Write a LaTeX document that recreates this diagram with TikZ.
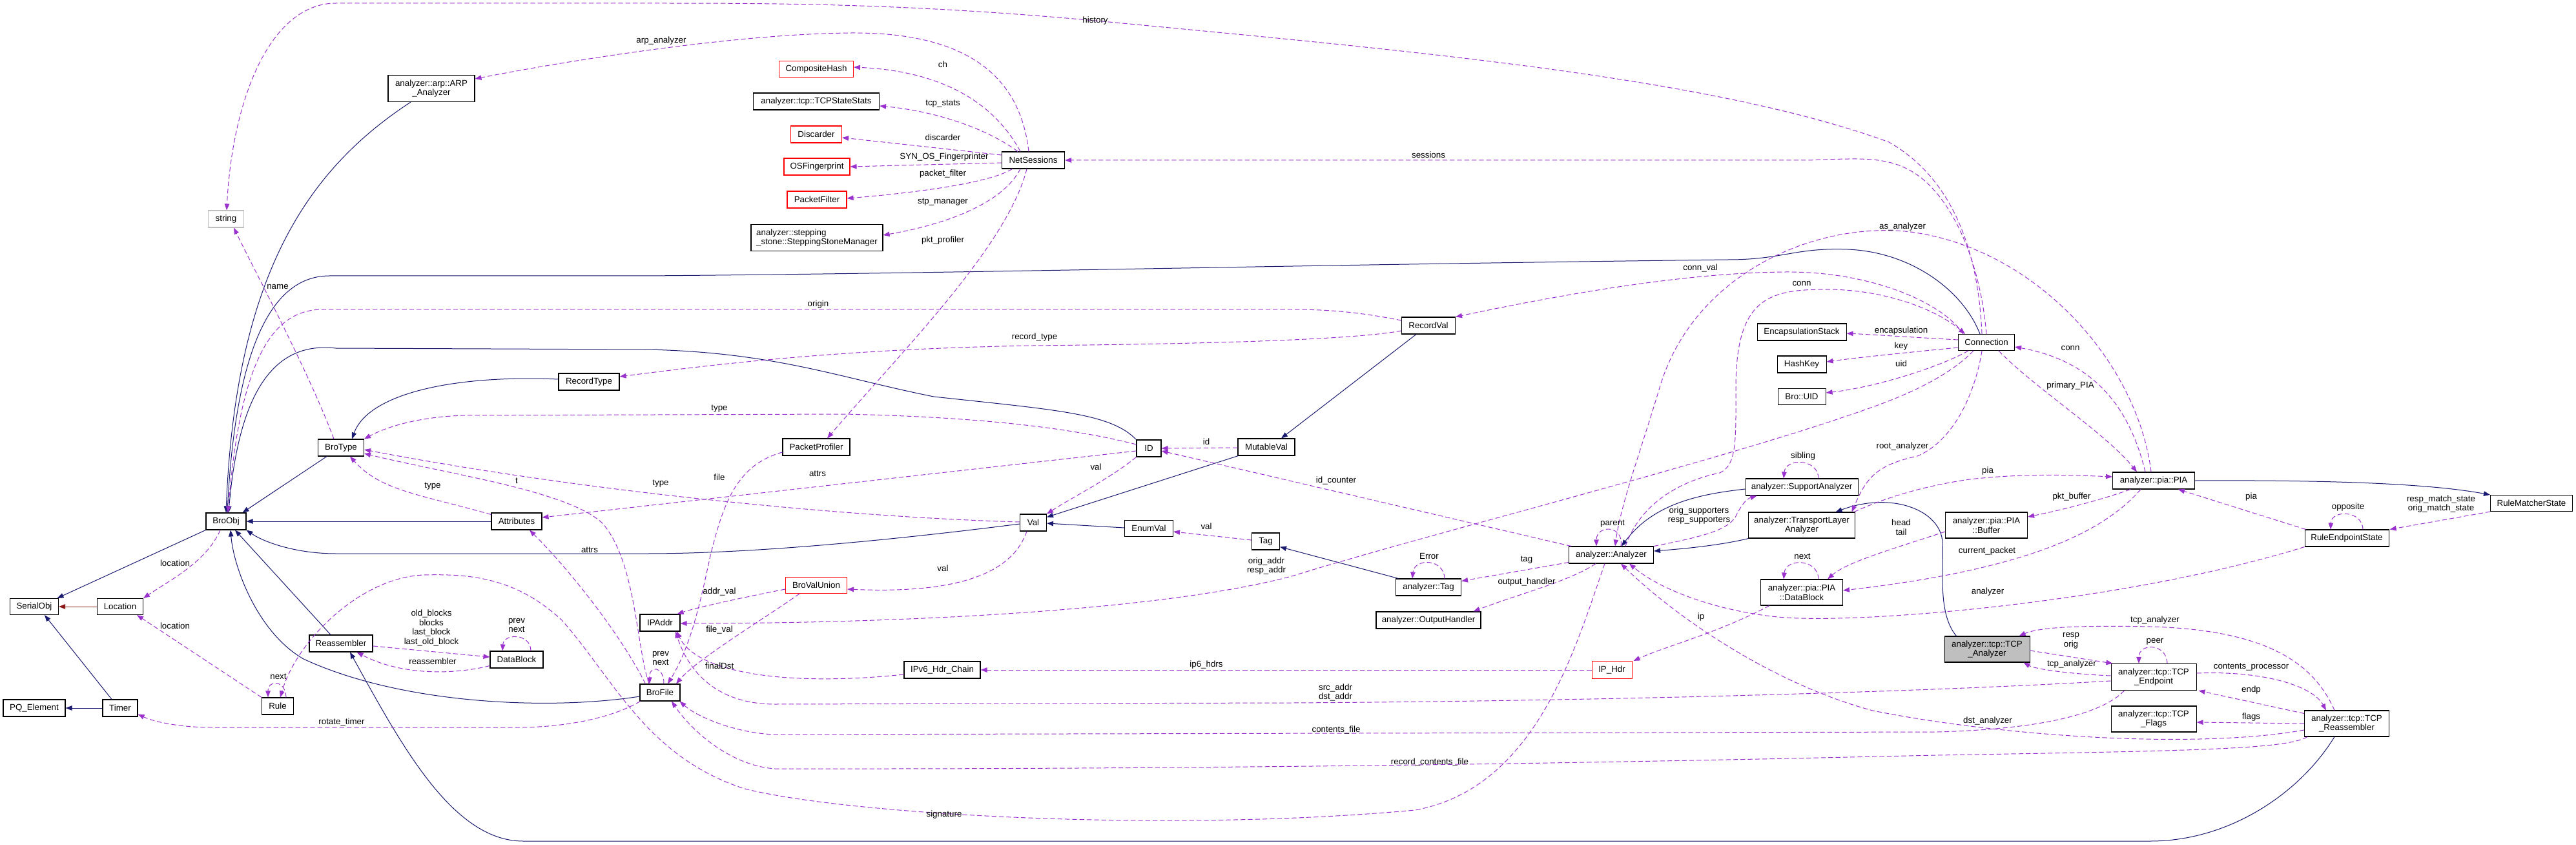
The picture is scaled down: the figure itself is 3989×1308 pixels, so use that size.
\documentclass[tikz,border=0pt]{standalone}
\usepackage{fontspec}
\setmainfont{Liberation Sans}
\usetikzlibrary{arrows.meta,calc}
\definecolor{midblue}{HTML}{191970}
\definecolor{deppurple}{HTML}{9A32CD}
\definecolor{fbfour}{HTML}{8B1A1A}
\definecolor{boxgray}{HTML}{BFBFBF}
\begin{document}
\begin{tikzpicture}[x=0.75pt,y=-0.75pt,
  cls/.style={draw=black, fill=white, line width=0.8pt, inner sep=0pt, font=\fontsize{10}{11}\selectfont, align=center},
  redcls/.style={cls, draw=red},
  sz/.style 2 args={minimum width=#1*0.75pt, minimum height=#2*0.75pt},
  tip/.style={-{Triangle[length=7.5pt,width=5.6pt]}},
  inh/.style={draw=midblue, line width=0.75pt, tip},
  priv/.style={draw=fbfour, line width=0.75pt, tip},
  dep/.style={draw=deppurple, line width=0.75pt, dash pattern=on 5.5pt off 3pt, tip},
  lbl/.style={inner sep=0pt, font=\fontsize{10}{11}\selectfont, align=center}]
\useasboundingbox (0,0) rectangle (3989,1308);
\fill[white] (0,0) rectangle (3989,1308);

% ---------------- nodes ----------------
\node[cls,draw=boxgray,sz={55}{26}] (string) at (350,339) {string};
\node[cls,sz={134}{41}] (arp) at (668,137) {analyzer::arp::ARP\\\_Analyzer};
\node[cls,sz={94}{26}] (RecordType) at (912,591) {RecordType};
\node[cls,sz={71}{26}] (BroType) at (528,693) {BroType};
\node[cls,sz={62}{26}] (BroObj) at (350,807) {BroObj};
\node[cls,sz={78}{26}] (Attributes) at (800,807) {Attributes};
\node[cls,sz={75}{25}] (SerialObj) at (53,939) {SerialObj};
\node[cls,sz={71}{25}] (Location) at (186,939) {Location};
\node[cls,sz={98}{26}] (Reassembler) at (528,996) {Reassembler};
\node[cls,sz={82}{26}] (DataBlock) at (800,1021) {DataBlock};
\node[cls,sz={49}{26}] (Rule) at (430,1093) {Rule};
\node[cls,sz={96}{26}] (PQElement) at (53,1096) {PQ\_Element};
\node[cls,sz={54}{26}] (Timer) at (186,1096) {Timer};
\node[redcls,sz={115}{25}] (CompositeHash) at (1264,107) {CompositeHash};
\node[cls,sz={195}{26}] (TCPStateStats) at (1264,157) {analyzer::tcp::TCPStateStats};
\node[redcls,sz={79}{26}] (Discarder) at (1264,208) {Discarder};
\node[redcls,sz={102}{26}] (OSFingerprint) at (1265,258) {OSFingerprint};
\node[redcls,sz={92}{26}] (PacketFilter) at (1265,309) {PacketFilter};
\node[cls,sz={204}{41},align=left] (Stepping) at (1265,368) {analyzer::stepping\\\_stone::SteppingStoneManager};
\node[cls,sz={97}{26}] (NetSessions) at (1600,248) {NetSessions};
\node[cls,sz={104}{26}] (PacketProfiler) at (1264,692) {PacketProfiler};
\node[cls,sz={38}{26}] (ID) at (1779,694) {ID};
\node[cls,sz={88}{26}] (MutableVal) at (1961,692) {MutableVal};
\node[cls,sz={41}{26}] (Val) at (1600,809) {Val};
\node[cls,sz={75}{25}] (EnumVal) at (1779,818) {EnumVal};
\node[cls,sz={43}{26}] (Tag) at (1960,838) {Tag};
\node[redcls,sz={95}{25}] (BroValUnion) at (1264,906) {BroValUnion};
\node[cls,sz={62}{26}] (IPAddr) at (1022,964) {IPAddr};
\node[cls,sz={118}{26}] (IPv6) at (1459,1037) {IPv6\_Hdr\_Chain};
\node[cls,sz={62}{26}] (BroFile) at (1022,1072) {BroFile};
\node[cls,sz={83}{26}] (RecordVal) at (2212,504) {RecordVal};
\node[cls,sz={138}{26}] (EncapStack) at (2790,514) {EncapsulationStack};
\node[cls,sz={76}{26}] (HashKey) at (2790,564) {HashKey};
\node[cls,sz={74}{25}] (BroUID) at (2790,614) {Bro::UID};
\node[cls,sz={174}{26}] (SupportAnalyzer) at (2790,754) {analyzer::SupportAnalyzer};
\node[cls,sz={165}{40}] (TLA) at (2790,813) {analyzer::TransportLayer\\Analyzer};
\node[cls,sz={131}{26}] (Analyzer) at (2495,859) {analyzer::Analyzer};
\node[cls,sz={101}{26}] (aTag) at (2212,909) {analyzer::Tag};
\node[cls,sz={162}{26}] (OutputHandler) at (2212,960) {analyzer::OutputHandler};
\node[cls,sz={127}{40}] (PIADataBlock) at (2790,917) {analyzer::pia::PIA\\::DataBlock};
\node[redcls,sz={62}{27}] (IPHdr) at (2496,1037) {IP\_Hdr};
\node[cls,sz={87}{25}] (Connection) at (3076,530) {Connection};
\node[cls,sz={127}{26}] (PIA) at (3335,744) {analyzer::pia::PIA};
\node[cls,sz={127}{40}] (Buffer) at (3076,813) {analyzer::pia::PIA\\::Buffer};
\node[cls,sz={127}{25}] (RuleMatcherState) at (3920,779) {RuleMatcherState};
\node[cls,sz={130}{26}] (RuleEndpointState) at (3634,833) {RuleEndpointState};
\node[cls,fill=boxgray,sz={132}{40}] (TCPAnalyzer) at (3077,1005) {analyzer::tcp::TCP\\\_Analyzer};
\node[cls,sz={132}{41}] (TCPEndpoint) at (3335,1048) {analyzer::tcp::TCP\\\_Endpoint};
\node[cls,sz={132}{40}] (TCPFlags) at (3335,1113) {analyzer::tcp::TCP\\\_Flags};
\node[cls,sz={131}{40}] (TCPReassembler) at (3634,1120) {analyzer::tcp::TCP\\\_Reassembler};

% ---------------- inheritance ----------------
\draw[inh] ($(arp.south)+(-32,0)$) .. controls (480,260) and (365,420) .. (BroObj.north);
\draw[inh] ($(Connection.north)+(-10,0)$) .. controls (3040,450) and (2960,390) .. (2861,386) .. controls (2780,383) and (2760,402) .. (2676,402) .. controls (2000,410) and (1500,423) .. (1000,427) -- (510,427) .. controls (420,427) and (365,540) .. ($(BroObj.north)+(2,0)$);
\draw[inh] (ID.north west) .. controls (1720,640) and (1640,635) .. (1446,614) .. controls (1300,585) and (1200,545) .. (1000,541) -- (520,539) .. controls (440,530) and (372,580) .. ($(BroObj.north)+(4,0)$);
\draw[inh] ($(BroType.south)+(-22,0)$) -- ($(BroObj.north east)+(-6,0)$);
\draw[inh] (Attributes.west) -- (BroObj.east);
\draw[inh] ($(Val.west)+(0,2)$) .. controls (1350,840) and (1150,857) .. (1000,857) -- (520,857) .. controls (460,857) and (410,840) .. (BroObj.south east);
\draw[inh] ($(Reassembler.north)+(-16,0)$) -- ($(BroObj.south)+(14,0)$);
\draw[inh] ($(BroFile.west)+(0,6)$) .. controls (850,1100) and (620,1090) .. (470,1020) .. controls (400,980) and (362,880) .. ($(BroObj.south)+(7,0)$);
\draw[inh] (BroObj.south west) -- ($(SerialObj.north east)+(-2.5,0)$);
\draw[priv] (Location.west) -- (SerialObj.east);
\draw[inh] ($(Timer.north)+(-13,0)$) -- ($(SerialObj.south)+(16,0)$);
\draw[inh] (Timer.west) -- (PQElement.east);
\draw[inh] ($(RecordType.west)+(0,-4)$) .. controls (700,580) and (570,610) .. ($(BroType.north)+(17,0)$);
\draw[inh] ($(RecordVal.south)+(-19,0)$) -- ($(MutableVal.north)+(23,0)$);
\draw[inh] ($(MutableVal.south west)+(1,0)$) -- ($(Val.north east)+(0,5)$);
\draw[inh] ($(EnumVal.west)+(0,-1)$) -- ($(Val.east)+(0,1)$);
\draw[inh] ($(aTag.north west)+(4.5,0)$) -- ($(Tag.south east)+(0,-5)$);
\draw[inh] ($(TLA.south west)+(0.5,0)$) .. controls (2660,845) and (2600,850) .. ($(Analyzer.east)+(0,-6)$);
\draw[inh] ($(SupportAnalyzer.west)+(0,3)$) .. controls (2630,765) and (2560,780) .. ($(Analyzer.north)+(16,0)$);
\draw[inh] ($(TCPAnalyzer.north west)+(19,0)$) .. controls (3000,950) and (3010,880) .. (3008,840) .. controls (3006,790) and (2930,760) .. ($(TLA.north east)+(-30.5,0)$);
\draw[inh] (PIA.east) .. controls (3600,743) and (3760,748) .. (RuleMatcherState.north west);
\draw[inh] ($(TCPReassembler.south)+(-19,0)$) .. controls (3560,1230) and (3450,1302) .. (3330,1302) -- (810,1302) .. controls (700,1302) and (620,1150) .. ($(Reassembler.south)+(14,0)$);

% ---------------- usage ----------------
% NetSessions
\draw[dep] ($(NetSessions.north)+(-7,0)$) .. controls (1580,120) and (1500,50) .. (1319,51) .. controls (1150,52) and (900,90) .. ($(arp.east)+(0,-15)$);
\draw[dep] ($(NetSessions.north)+(-20,0)$) .. controls (1540,160) and (1460,110) .. ($(CompositeHash.east)+(0,-3)$);
\draw[dep] ($(NetSessions.north west)+(25,0)$) .. controls (1530,200) and (1450,172) .. ($(TCPStateStats.east)+(0,7)$);
\draw[dep] ($(NetSessions.west)+(0,-8)$) -- ($(Discarder.east)+(0,5)$);
\draw[dep] ($(NetSessions.west)+(0,4)$) -- (OSFingerprint.east);
\draw[dep] ($(NetSessions.south west)+(16.5,0)$) .. controls (1530,285) and (1400,300) .. ($(PacketFilter.east)+(0,-2)$);
\draw[dep] ($(NetSessions.south)+(-20,0)$) .. controls (1550,320) and (1450,350) .. ($(Stepping.east)+(0,-4)$);
\draw[dep] ($(NetSessions.south)+(-10,0)$) .. controls (1560,380) and (1400,540) .. ($(PacketProfiler.north)+(17,0)$);
% Connection
\draw[dep] ($(Connection.north)+(-7,0)$) .. controls (3064,400) and (3030,280) .. (2925,220) .. controls (2650,120) and (2200,80) .. (1696,32) .. controls (1400,5) and (1200,5) .. (1000,5) -- (520,5) .. controls (420,5) and (360,150) .. ($(string.north)+(1,0)$);
\draw[dep] (Connection.north) .. controls (3066,400) and (3020,300) .. (2960,265) .. controls (2920,242) and (2880,245) .. (2800,248) -- (NetSessions.east);
\draw[dep] ($(Connection.north west)+(8,0)$) .. controls (3010,470) and (2900,420) .. (2765,421) .. controls (2600,422) and (2400,460) .. (RecordVal.north east);
\draw[dep] ($(Connection.west)+(0,-4)$) .. controls (2960,522) and (2900,518) .. ($(EncapStack.east)+(0,2)$);
\draw[dep] ($(Connection.west)+(0,8)$) .. controls (2960,545) and (2880,553) .. ($(HashKey.east)+(0,-4)$);
\draw[dep] ($(Connection.south west)+(16,0)$) .. controls (3000,570) and (2900,600) .. ($(BroUID.east)+(0,-6)$);
\draw[dep] ($(Connection.south west)+(24,0)$) .. controls (3000,600) and (2900,630) .. (2842,650) .. controls (2600,730) and (2200,830) .. (2000,892) .. controls (1800,945) and (1400,965) .. ($(IPAddr.east)+(0,1)$);
\draw[dep] ($(Connection.south)+(-7,0)$) .. controls (3060,600) and (3030,680) .. (2969,706) .. controls (2905,720) and (2890,740) .. ($(TLA.north east)+(-5.5,0)$);
\draw[dep] ($(Connection.south)+(19,0)$) .. controls (3150,600) and (3260,670) .. ($(PIA.north)+(-26,0)$);
% Analyzer
\draw[dep] ($(Analyzer.north)+(22,0)$) .. controls (2540,780) and (2600,745) .. (2663,732) .. controls (2690,720) and (2688,680) .. (2688,600) .. controls (2688,460) and (2740,448) .. (2829,448) .. controls (2920,448) and (3000,480) .. ($(Connection.north west)+(11,0)$);
\draw[dep] ($(Analyzer.north)+(15,0)$) .. controls (2515,812) and (2472,812) .. ($(Analyzer.north)+(-23,0)$);
\draw[dep] (Analyzer.north east) .. controls (2640,830) and (2680,820) .. (2690,795) .. controls (2698,780) and (2705,772) .. ($(SupportAnalyzer.south west)+(18,0)$);
\draw[dep] ($(SupportAnalyzer.north)+(26,0)$) .. controls (2815,709) and (2765,709) .. ($(SupportAnalyzer.north)+(-28,0)$);
\draw[dep] ($(Analyzer.north west)+(4,0)$) -- ($(ID.east)+(0,4)$);
\draw[dep] ($(Analyzer.south west)+(0,-2)$) -- ($(aTag.north east)+(0,4)$);
\draw[dep] ($(aTag.north)+(25,0)$) .. controls (2236,864) and (2190,864) .. ($(aTag.north)+(-25,0)$);
\draw[dep] ($(Analyzer.south west)+(42,0)$) .. controls (2430,900) and (2350,920) .. ($(OutputHandler.north east)+(-12,0)$);
\draw[dep] ($(Analyzer.south)+(-10,0)$) .. controls (2440,1000) and (2380,1220) .. (2191,1254) .. controls (1800,1290) and (1300,1260) .. (1150,1220) .. controls (1000,1170) and (950,1050) .. (870,960) .. controls (800,895) and (730,888) .. (657,890) .. controls (560,893) and (460,990) .. ($(Rule.north)+(4,0)$);
% PIA
\draw[dep] ($(PIA.north)+(-4,0)$) .. controls (3310,560) and (3150,380) .. (2950,358) .. controls (2800,345) and (2620,430) .. (2570,600) .. controls (2540,700) and (2510,780) .. ($(Analyzer.north)+(6,0)$);
\draw[dep] ($(PIA.north)+(-13,0)$) .. controls (3300,640) and (3250,560) .. ($(Connection.east)+(0,7)$);
\draw[dep] ($(TLA.north east)+(-2,0)$) .. controls (2920,770) and (2980,752) .. (3050,742) .. controls (3130,733) and (3200,735) .. ($(PIA.west)+(0,-6)$);
\draw[dep] ($(PIA.south west)+(28,0)$) .. controls (3250,775) and (3190,790) .. ($(Buffer.east)+(0,-13)$);
\draw[dep] ($(PIA.south)+(-20,0)$) .. controls (3260,820) and (3150,880) .. ($(PIADataBlock.east)+(0,-3)$);
\draw[dep] ($(Buffer.west)+(0,10)$) .. controls (2930,850) and (2860,870) .. ($(PIADataBlock.north east)+(-24,0)$);
\draw[dep] ($(PIADataBlock.north)+(26,0)$) .. controls (2815,864) and (2765,864) .. ($(PIADataBlock.north)+(-28,0)$);
\draw[dep] ($(PIADataBlock.south west)+(14,0)$) .. controls (2660,980) and (2580,1000) .. ($(IPHdr.north east)+(2,0)$);
\draw[dep] (IPHdr.west) -- (IPv6.east);
\draw[dep] ($(RuleEndpointState.north west)+(2,0)$) -- ($(PIA.south east)+(-26,0)$);
\draw[dep] (RuleEndpointState.south west) .. controls (3300,930) and (2900,965) .. (2765,956) .. controls (2680,950) and (2580,920) .. ($(Analyzer.south)+(28,0)$);
\draw[dep] ($(RuleEndpointState.north)+(25,0)$) .. controls (3658,789) and (3610,789) .. ($(RuleEndpointState.north)+(-25,0)$);
\draw[dep] (RuleMatcherState.south west) -- ($(RuleEndpointState.north east)+(1,0)$);
% TCP
\draw[dep] ($(TCPReassembler.north)+(-19,0)$) .. controls (3580,1020) and (3500,975) .. (3330,970) .. controls (3230,968) and (3160,970) .. ($(TCPAnalyzer.north east)+(-17,0)$);
\draw[dep] ($(TCPAnalyzer.east)+(0,2)$) -- ($(TCPEndpoint.north west)+(3,0)$);
\draw[dep] ($(TCPEndpoint.west)+(0,-2)$) .. controls (3200,1043) and (3150,1035) .. ($(TCPAnalyzer.south east)+(-10,0)$);
\draw[dep] ($(TCPEndpoint.north)+(21,0)$) .. controls (3355,995) and (3312,995) .. ($(TCPEndpoint.north)+(-23,0)$);
\draw[dep] ($(TCPEndpoint.east)+(0,-6)$) .. controls (3500,1038) and (3580,1060) .. ($(TCPReassembler.north)+(-32,0)$);
\draw[dep] ($(TCPReassembler.north west)+(0,5)$) -- ($(TCPEndpoint.south east)+(3,0)$);
\draw[dep] (TCPReassembler.west) -- ($(TCPFlags.east)+(0,5)$);
\draw[dep] ($(TCPEndpoint.west)+(0,6)$) .. controls (3000,1070) and (2500,1085) .. (2000,1088) -- (1200,1090) .. controls (1120,1090) and (1070,1050) .. ($(IPAddr.south)+(24,0)$);
\draw[dep] ($(TCPEndpoint.south west)+(21,0)$) .. controls (3260,1100) and (3180,1128) .. (3000,1133) -- (1200,1137) .. controls (1140,1135) and (1080,1110) .. ($(BroFile.south east)+(-1,0)$);
\draw[dep] ($(TCPReassembler.south west)+(5,0)$) .. controls (3540,1160) and (3400,1162) .. (3000,1169) .. controls (2600,1178) and (2000,1191) .. (1200,1190) .. controls (1130,1185) and (1070,1130) .. ($(BroFile.south)+(18,0)$);
\draw[dep] ($(TCPReassembler.west)+(0,10)$) .. controls (3400,1160) and (3100,1140) .. (2900,1100) .. controls (2750,1060) and (2600,960) .. ($(Analyzer.south)+(15,0)$);
% values
\draw[dep] ($(MutableVal.west)+(0,1)$) -- (ID.east);
\draw[dep] (ID.south west) .. controls (1720,740) and (1660,770) .. (Val.north east);
\draw[dep] ($(ID.west)+(0,-6)$) .. controls (1650,660) and (1500,645) .. (1306,641) -- (720,643) .. controls (650,645) and (600,660) .. (BroType.north east);
\draw[dep] ($(ID.west)+(0,4)$) -- ($(Attributes.east)+(0,-6)$);
\draw[dep] ($(Val.west)+(0,-1)$) .. controls (1300,800) and (900,760) .. ($(BroType.east)+(0,3)$);
\draw[dep] ($(Val.south)+(-10,0)$) .. controls (1570,880) and (1500,920) .. ($(BroValUnion.east)+(0,6)$);
\draw[dep] ($(Tag.west)+(0,-2)$) -- ($(EnumVal.east)+(0,5)$);
\draw[dep] ($(BroValUnion.west)+(0,6)$) .. controls (1150,925) and (1080,940) .. ($(IPAddr.north east)+(-5,0)$);
\draw[dep] ($(BroValUnion.south west)+(22,0)$) .. controls (1180,960) and (1080,1020) .. ($(BroFile.north)+(25,0)$);
\draw[dep] ($(PacketProfiler.west)+(0,8)$) .. controls (1140,720) and (1120,780) .. (1100,860) .. controls (1085,930) and (1070,1000) .. ($(BroFile.north)+(12,0)$);
\draw[dep] ($(IPv6.west)+(0,7)$) .. controls (1230,1062) and (1080,1045) .. ($(IPAddr.south)+(26,0)$);
\draw[dep] ($(RecordVal.west)+(0,-8)$) .. controls (2100,482) and (2050,479) .. (2000,479) -- (500,479) .. controls (420,479) and (372,560) .. ($(BroObj.north)+(3,0)$);
\draw[dep] ($(RecordVal.west)+(0,8)$) .. controls (2100,525) and (1900,532) .. (1600,535) .. controls (1300,540) and (1100,565) .. ($(RecordType.east)+(0,-8)$);
% left part
\draw[dep] ($(BroType.north)+(-11,0)$) .. controls (480,580) and (400,430) .. ($(string.south)+(12,0)$);
\draw[dep] ($(Attributes.north west)+(0,3)$) .. controls (650,765) and (590,760) .. ($(BroType.south)+(14,0)$);
\draw[dep] ($(BroFile.north)+(-17,0)$) .. controls (985,1000) and (985,870) .. (933,810) .. controls (880,760) and (700,735) .. ($(BroType.east)+(0,9)$);
\draw[dep] ($(BroFile.north west)+(9,0)$) .. controls (960,980) and (880,880) .. ($(Attributes.south)+(20,0)$);
\draw[dep] ($(BroFile.north)+(6,0)$) .. controls (1028,1030) and (1005,1030) .. ($(BroFile.north)+(-16,0)$);
\draw[dep] ($(BroFile.south west)+(1,0)$) .. controls (950,1110) and (880,1126) .. (800,1126) -- (330,1126) .. controls (280,1126) and (240,1118) .. ($(Timer.south east)+(0,-4)$);
\draw[dep] ($(BroObj.south)+(-9,0)$) .. controls (320,870) and (260,900) .. (Location.north east);
\draw[dep] (Rule.north west) -- ($(Location.south east)+(-10,0)$);
\draw[dep] ($(Rule.north)+(13,0)$) .. controls (442,1052) and (415,1052) .. ($(Rule.north)+(-15,0)$);
\draw[dep] ($(Reassembler.east)+(0,4)$) -- ($(DataBlock.west)+(0,-4)$);
\draw[dep] ($(DataBlock.south west)+(0,-4)$) .. controls (700,1045) and (620,1045) .. ($(Reassembler.south east)+(-25,0)$);
\draw[dep] ($(DataBlock.north)+(22,0)$) .. controls (822,980) and (780,980) .. ($(DataBlock.north)+(-22,0)$);

% ---------------- labels ----------------
\node[lbl] (l01) at (1024,63) {arp\_analyzer};
\node[lbl] (l02) at (1696,32) {history};
\node[lbl] (l03) at (1460,100) {ch};
\node[lbl] (l04) at (1460,161) {tcp\_stats};
\node[lbl] (l05) at (1460,213) {discarder};
\node[lbl] (l06) at (1462,243) {SYN\_OS\_Fingerprinter};
\node[lbl] (l07) at (1460,269) {packet\_filter};
\node[lbl] (l08) at (1460,313) {stp\_manager};
\node[lbl] (l09) at (1460,372) {pkt\_profiler};
\node[lbl] (l10) at (2212,240) {sessions};
\node[lbl] (l11) at (430,444) {name};
\node[lbl] (l12) at (1267,471) {origin};
\node[lbl] (l13) at (1602,522) {record\_type};
\node[lbl] (l14) at (1114,633) {type};
\node[lbl] (l15) at (2946,351) {as\_analyzer};
\node[lbl] (l16) at (2633,415) {conn\_val};
\node[lbl] (l17) at (2790,439) {conn};
\node[lbl] (l18) at (2944,512) {encapsulation};
\node[lbl] (l19) at (2944,536) {key};
\node[lbl] (l20) at (2944,563) {uid};
\node[lbl] (l21) at (3206,539) {conn};
\node[lbl] (l22) at (3206,597) {primary\_PIA};
\node[lbl] (l23) at (2946,691) {root\_analyzer};
\node[lbl] (l24) at (2792,706) {sibling};
\node[lbl] (l25) at (2631,798) {orig\_supporters\\resp\_supporters};
\node[lbl] (l26) at (2497,811) {parent};
\node[lbl] (l27) at (2944,816) {head\\tail};
\node[lbl] (l28) at (2213,861) {Error};
\node[lbl] (l29) at (2364,867) {tag};
\node[lbl] (l30) at (2364,901) {output\_handler};
\node[lbl] (l31) at (2791,861) {next};
\node[lbl] (l32) at (2634,955) {ip};
\node[lbl] (l33) at (2068,1072) {src\_addr\\dst\_addr};
\node[lbl] (l34) at (2069,1130) {contents\_file};
\node[lbl] (l35) at (2214,1180) {record\_contents\_file};
\node[lbl] (l36) at (2069,744) {id\_counter};
\node[lbl] (l37) at (1868,684) {id};
\node[lbl] (l38) at (1697,723) {val};
\node[lbl] (l39) at (1266,733) {attrs};
\node[lbl] (l40) at (1114,739) {file};
\node[lbl] (l41) at (1023,749) {type};
\node[lbl] (l42) at (1868,815) {val};
\node[lbl] (l43) at (1961,876) {orig\_addr\\resp\_addr};
\node[lbl] (l44) at (1460,880) {val};
\node[lbl] (l45) at (1114,916) {addr\_val};
\node[lbl] (l46) at (1114,975) {file\_val};
\node[lbl] (l47) at (1023,1019) {prev\\next};
\node[lbl] (l48) at (1114,1031) {finalDst};
\node[lbl] (l49) at (1868,1029) {ip6\_hdrs};
\node[lbl] (l50) at (1462,1261) {signature};
\node[lbl] (l51) at (670,753) {type};
\node[lbl] (l52) at (800,744) {t};
\node[lbl] (l53) at (913,851) {attrs};
\node[lbl] (l54) at (271,872) {location};
\node[lbl] (l55) at (271,969) {location};
\node[lbl] (l56) at (668,972) {old\_blocks\\blocks\\last\_block\\last\_old\_block};
\node[lbl] (l57) at (800,968) {prev\\next};
\node[lbl] (l58) at (670,1024) {reassembler};
\node[lbl] (l59) at (431,1047) {next};
\node[lbl] (l60) at (529,1118) {rotate\_timer};
\node[lbl] (l61) at (3078,729) {pia};
\node[lbl] (l62) at (3208,769) {pkt\_buffer};
\node[lbl] (l63) at (3486,769) {pia};
\node[lbl] (l64) at (3780,780) {resp\_match\_state\\orig\_match\_state};
\node[lbl] (l65) at (3636,785) {opposite};
\node[lbl] (l66) at (3077,853) {current\_packet};
\node[lbl] (l67) at (3078,916) {analyzer};
\node[lbl] (l68) at (3337,960) {tcp\_analyzer};
\node[lbl] (l69) at (3207,992) {resp\\orig};
\node[lbl] (l70) at (3337,993) {peer};
\node[lbl] (l71) at (3208,1028) {tcp\_analyzer};
\node[lbl] (l72) at (3486,1033) {contents\_processor};
\node[lbl] (l73) at (3486,1068) {endp};
\node[lbl] (l74) at (3486,1110) {flags};
\node[lbl] (l75) at (3078,1116) {dst\_analyzer};
\end{tikzpicture}
\end{document}
